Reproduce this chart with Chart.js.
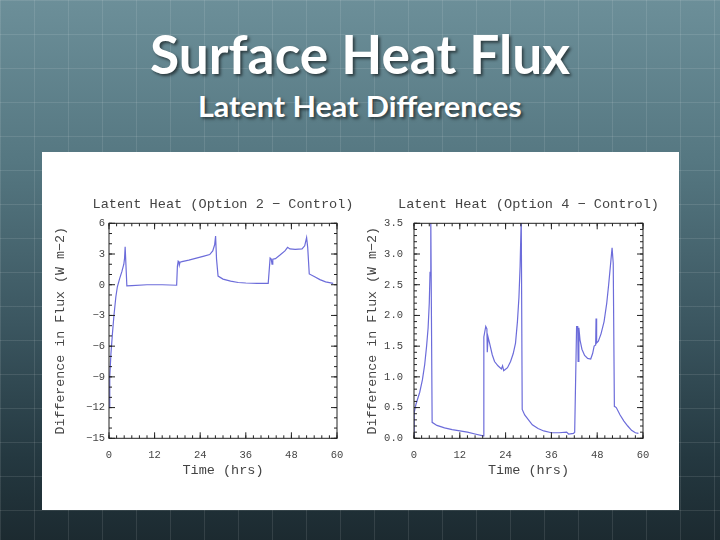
<!DOCTYPE html>
<html>
<head>
<meta charset="utf-8">
<script src="https://cdn.jsdelivr.net/npm/chart.js@4.4.1/dist/chart.umd.min.js"></script>
<style>
  html, body { margin: 0; padding: 0; }
  body {
    width: 720px; height: 540px; position: relative; overflow: hidden;
    background:
      repeating-linear-gradient(90deg, rgba(255,255,255,0.10) 0 1px, transparent 1px 34px),
      repeating-linear-gradient(180deg, rgba(255,255,255,0.10) 0 1px, transparent 1px 34px),
      linear-gradient(180deg, #6c8f99 0%, #557781 30%, #3b5660 60%, #243840 85%, #1c2a30 100%);
  }
  .head {
    position: absolute; left: 0; width: 720px; text-align: center; color: #fff;
    font-family: Lato, "Open Sans", sans-serif; font-weight: bold;
    text-shadow: 2px 2px 3px rgba(0,0,0,0.55);
    white-space: nowrap;
  }
  .head span { display: inline-block; transform-origin: center; }
  #t1 { top: 22px; font-size: 54px; line-height: 64px; }
  #t2 { top: 89px; font-size: 29px; line-height: 34px; }
  #panel { position: absolute; left: 42px; top: 152px; width: 637px; height: 358px; background: #fff; }
  .box { position: absolute; top: 152px; height: 358px; }
  #boxL { left: 42px; width: 318px; }
  #boxR { left: 360px; width: 319px; }
</style>
</head>
<body>
<div class="head" id="t1"><span>Surface Heat Flux</span></div>
<div class="head" id="t2"><span>Latent Heat Differences</span></div>
<div id="panel"></div>
<div class="box" id="boxL"><canvas id="chartL"></canvas></div>
<div class="box" id="boxR"><canvas id="chartR"></canvas></div>
<script>
// Option 2 - Control
const horasOpt2 = [0, 0.2, 0.5, 0.9, 1.3, 1.8, 2.2, 2.8, 3.4, 3.9, 4.1, 4.25, 4.7, 6, 10, 14, 17.8,
  18.0, 18.2, 18.4, 18.5, 18.7, 19.2, 21, 23, 25, 26.5, 27.3, 27.8, 28.05, 28.3, 28.7, 30, 32, 34, 36, 39, 41.9,
  42.4, 42.7, 42.9, 43.1, 43.8, 45, 46.3, 47.0, 47.6, 49, 50.8, 51.5, 52.0, 52.3, 52.7, 54, 55.5, 57, 59];
const flujoOpt2 = [-12.0, -9.0, -6.8, -4.8, -3.0, -1.2, -0.2, 0.6, 1.3, 2.0, 2.6, 3.7, -0.1, -0.08, 0.0, 0.0, -0.05,
  1.8, 2.3, 2.2, 1.9, 2.2, 2.25, 2.4, 2.6, 2.8, 2.95, 3.3, 3.9, 4.75, 2.5, 0.85, 0.55, 0.35, 0.22, 0.17, 0.14, 0.14,
  2.6, 2.5, 2.0, 2.5, 2.55, 2.9, 3.3, 3.65, 3.5, 3.45, 3.5, 3.8, 4.6, 3.6, 1.05, 0.8, 0.5, 0.28, 0.14];

// Option 4 - Control
const horasOpt4 = [0, 0.05, 0.5, 1.5, 2.2, 2.8, 3.3, 3.7, 4.0, 4.2, 4.35, 4.45, 4.75, 6, 8, 10, 12, 14, 16, 18.1,
  18.3, 18.8, 19.1, 19.2, 19.4, 19.8, 20.5, 21.1, 22.0, 22.9, 23.2, 23.5, 23.9, 24.5, 25.3, 26.0, 26.6, 27.1, 27.5, 27.8, 28.1,
  28.35, 29, 30, 31, 32.5, 34, 36, 38, 40, 40.5, 41.8, 42.1,
  42.6, 42.9, 43.0, 43.2, 43.5, 44.0, 44.7, 45.5, 46.3, 46.8, 47.2, 47.6, 47.7, 47.85, 48.3, 49.0, 49.8, 50.5, 51.0, 51.6, 51.9, 52.2,
  52.5, 53.0, 54.0, 55.0, 56.0, 57.0, 58.0, 58.8];
const flujoOpt4 = [0.0, 0.42, 0.55, 0.75, 0.95, 1.2, 1.5, 1.8, 2.2, 2.7, 3.2, 3.6, 0.26, 0.21, 0.17, 0.14, 0.12, 0.1, 0.07, 0.04,
  1.65, 1.82, 1.78, 1.4, 1.65, 1.55, 1.36, 1.25, 1.18, 1.13, 1.18, 1.1, 1.12, 1.15, 1.25, 1.38, 1.55, 1.9, 2.3, 2.8, 3.6,
  0.47, 0.38, 0.3, 0.22, 0.16, 0.12, 0.09, 0.09, 0.1, 0.07, 0.08, 0.1,
  1.82, 1.82, 1.25, 1.8, 1.6, 1.45, 1.35, 1.3, 1.29, 1.38, 1.5, 1.52, 1.95, 1.55, 1.58, 1.7, 1.9, 2.2, 2.5, 2.9, 3.1, 2.85,
  0.52, 0.5, 0.38, 0.28, 0.2, 0.13, 0.09, 0.08];

const tituloOpt2 = 'Latent Heat (Option 2 \u2212 Control)';
const tituloOpt4 = 'Latent Heat (Option 4 \u2212 Control)';
const tituloEjeY = 'Difference in Flux (W m\u22122)';
const tituloEjeX = 'Time (hrs)';

const colorLinea = 'rgb(108,108,218)';
const fuente = '"Liberation Mono", "DejaVu Sans Mono", monospace';

// fit the slide headings to the widths in the slide
const ajustar = (id, ancho) => {
  const span = document.querySelector(`#${id} span`);
  span.style.transform = `scaleX(${ancho / span.offsetWidth})`;
};
ajustar('t1', 420);
ajustar('t2', 324);

// NCL style frame with inward ticks on every side, plus the plot title
// (drawn here so it can run wider than the plot area without being squeezed)
const marcoNcl = {
  id: 'marcoNcl',
  afterDatasetsDraw(chart, args, opts) {
    const { ctx, chartArea: a, scales: { x, y } } = chart;
    ctx.save();
    ctx.strokeStyle = '#222';
    ctx.lineWidth = 1;
    ctx.strokeRect(a.left, a.top, a.right - a.left, a.bottom - a.top);
    const marca = (px, largo, vertical) => {
      ctx.beginPath();
      if (vertical) {
        ctx.moveTo(px, a.bottom); ctx.lineTo(px, a.bottom - largo);
        ctx.moveTo(px, a.top); ctx.lineTo(px, a.top + largo);
      } else {
        ctx.moveTo(a.left, px); ctx.lineTo(a.left + largo, px);
        ctx.moveTo(a.right, px); ctx.lineTo(a.right - largo, px);
      }
      ctx.stroke();
    };
    const pasos = (min, max, paso) => {
      const n = Math.round((max - min) / paso);
      return Array.from({ length: n + 1 }, (_, i) => min + i * paso);
    };
    pasos(x.min, x.max, opts.xMenor).forEach(v => marca(x.getPixelForValue(v), 3, true));
    x.ticks.forEach(t => marca(x.getPixelForValue(t.value), 6, true));
    pasos(y.min, y.max, opts.yMenor).forEach(v => marca(y.getPixelForValue(v), 3, false));
    y.ticks.forEach(t => marca(y.getPixelForValue(t.value), 6, false));

    ctx.fillStyle = '#444';
    ctx.font = `13.6px ${fuente}`;
    ctx.textAlign = 'center';
    ctx.textBaseline = 'middle';
    ctx.fillText(opts.titulo, (a.left + a.right) / 2, a.top - 19);
    ctx.restore();
  }
};

const crearGrafico = (canvas, cfg) => new Chart(canvas, {
  type: 'line',
  data: {
    datasets: [{
      data: cfg.horas.map((h, i) => ({ x: h, y: cfg.flujo[i] })),
      borderColor: colorLinea,
      borderWidth: 1.2,
      pointRadius: 0,
      tension: 0,
      fill: false
    }]
  },
  options: {
    responsive: true,
    maintainAspectRatio: false,
    animation: false,
    layout: { padding: { top: 71.3, left: cfg.padIzq, right: cfg.padDer, bottom: 28 } },
    plugins: {
      legend: { display: false },
      tooltip: { enabled: false },
      title: { display: false },
      marcoNcl: { xMenor: 2, yMenor: cfg.yMenor, titulo: cfg.titulo }
    },
    scales: {
      x: {
        type: 'linear',
        min: 0, max: 60,
        grid: { display: false, drawTicks: false },
        border: { display: false },
        ticks: { stepSize: 12, padding: 11, color: '#444', font: { family: fuente, size: 10.5 }, maxRotation: 0 },
        title: { display: true, text: tituloEjeX, color: '#444', font: { family: fuente, size: 13.5 }, padding: { top: 0, bottom: 3 } },
        afterFit: (s) => { s.height = 43.7; }
      },
      y: {
        min: cfg.yMin, max: cfg.yMax,
        grid: { display: false, drawTicks: false },
        border: { display: false },
        ticks: {
          stepSize: cfg.yPaso, padding: cfg.padTick, color: '#444', font: { family: fuente, size: 10.5 },
          callback: cfg.formato
        },
        title: { display: true, text: tituloEjeY, color: '#444', font: { family: fuente, size: 13.3 }, padding: { top: 4, bottom: 0 } },
        afterFit: (s) => { s.width = cfg.anchoY; }
      }
    }
  },
  plugins: [marcoNcl]
});

crearGrafico(document.getElementById('chartL'), {
  horas: horasOpt2, flujo: flujoOpt2, titulo: tituloOpt2,
  yMin: -15, yMax: 6, yPaso: 3, yMenor: 1,
  padIzq: 6, padDer: 23, anchoY: 61, padTick: 4,
  formato: (v) => (v < 0 ? '\u2212' + Math.abs(v) : String(v))
});

crearGrafico(document.getElementById('chartR'), {
  horas: horasOpt4, flujo: flujoOpt4, titulo: tituloOpt4,
  yMin: 0, yMax: 3.5, yPaso: 0.5, yMenor: 0.1,
  padIzq: 0, padDer: 36, anchoY: 54, padTick: 11,
  formato: (v) => v.toFixed(1)
});
</script>
</body>
</html>
